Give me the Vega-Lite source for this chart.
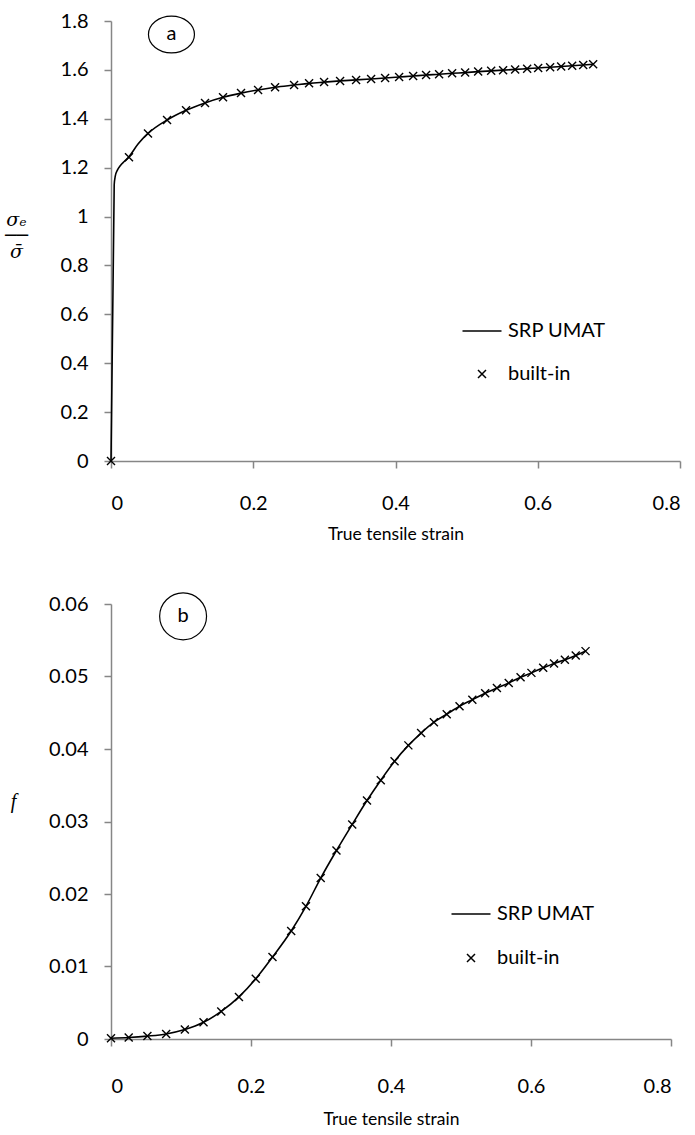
{
  "$schema": "https://vega.github.io/schema/vega-lite/v6.json",
  "background": "white",
  "padding": {"left": 4, "top": 11, "right": 5, "bottom": 5},
  "config": {
    "font": "Lato",
    "view": {"stroke": null},
    "axis": {
      "domainColor": "#868686", "tickColor": "#868686", "grid": false,
      "domainWidth": 1.5, "tickWidth": 1.5, "tickSize": 7,
      "labelFont": "Lato", "labelFontSize": 20, "labelColor": "#000",
      "titleFont": "Lato", "titleFontSize": 17.5, "titleFontWeight": "normal", "titleColor": "#000"
    },
    "legend": {
      "labelFont": "Lato", "labelFontSize": 20, "labelColor": "#000",
      "symbolStrokeColor": "black", "symbolFillColor": "transparent", "symbolStrokeWidth": 1.5,
      "padding": 0
    }
  },
  "datasets": {
    "topLine": [
      {"strain": 0, "value": 0}, {"strain": 0.0045, "value": 1.13}, {"strain": 0.006, "value": 1.165},
      {"strain": 0.009, "value": 1.19}, {"strain": 0.013, "value": 1.208}, {"strain": 0.019, "value": 1.226},
      {"strain": 0.0253, "value": 1.245}, {"strain": 0.038, "value": 1.297}, {"strain": 0.052, "value": 1.34},
      {"strain": 0.0788, "value": 1.395},
      {"strain": 0.1055, "value": 1.435}, {"strain": 0.1322, "value": 1.465}, {"strain": 0.1575, "value": 1.488},
      {"strain": 0.1828, "value": 1.505}, {"strain": 0.2068, "value": 1.518}, {"strain": 0.2307, "value": 1.529},
      {"strain": 0.2574, "value": 1.538}, {"strain": 0.2785, "value": 1.545}, {"strain": 0.2996, "value": 1.55},
      {"strain": 0.3221, "value": 1.555}, {"strain": 0.3446, "value": 1.559}, {"strain": 0.3657, "value": 1.563},
      {"strain": 0.3854, "value": 1.567}, {"strain": 0.4051, "value": 1.571}, {"strain": 0.4248, "value": 1.575},
      {"strain": 0.443, "value": 1.579}, {"strain": 0.4613, "value": 1.582}, {"strain": 0.4796, "value": 1.586},
      {"strain": 0.4979, "value": 1.589}, {"strain": 0.5162, "value": 1.593}, {"strain": 0.5345, "value": 1.596},
      {"strain": 0.5513, "value": 1.599}, {"strain": 0.5682, "value": 1.602}, {"strain": 0.5851, "value": 1.605},
      {"strain": 0.6006, "value": 1.608}, {"strain": 0.6174, "value": 1.611}, {"strain": 0.6329, "value": 1.614},
      {"strain": 0.6484, "value": 1.617}, {"strain": 0.6639, "value": 1.62}, {"strain": 0.6779, "value": 1.623}
    ],
    "topPts": [
      {"series": "built-in", "strain": 0, "value": 0}, {"series": "built-in", "strain": 0.0253, "value": 1.243},
      {"series": "built-in", "strain": 0.052, "value": 1.34}, {"series": "built-in", "strain": 0.0788, "value": 1.395},
      {"series": "built-in", "strain": 0.1055, "value": 1.435}, {"series": "built-in", "strain": 0.1322, "value": 1.465},
      {"series": "built-in", "strain": 0.1575, "value": 1.488}, {"series": "built-in", "strain": 0.1828, "value": 1.505},
      {"series": "built-in", "strain": 0.2068, "value": 1.518}, {"series": "built-in", "strain": 0.2307, "value": 1.529},
      {"series": "built-in", "strain": 0.2574, "value": 1.538}, {"series": "built-in", "strain": 0.2785, "value": 1.545},
      {"series": "built-in", "strain": 0.2996, "value": 1.55}, {"series": "built-in", "strain": 0.3221, "value": 1.555},
      {"series": "built-in", "strain": 0.3446, "value": 1.559}, {"series": "built-in", "strain": 0.3657, "value": 1.563},
      {"series": "built-in", "strain": 0.3854, "value": 1.567}, {"series": "built-in", "strain": 0.4051, "value": 1.571},
      {"series": "built-in", "strain": 0.4248, "value": 1.575}, {"series": "built-in", "strain": 0.443, "value": 1.579},
      {"series": "built-in", "strain": 0.4613, "value": 1.582}, {"series": "built-in", "strain": 0.4796, "value": 1.586},
      {"series": "built-in", "strain": 0.4979, "value": 1.589}, {"series": "built-in", "strain": 0.5162, "value": 1.593},
      {"series": "built-in", "strain": 0.5345, "value": 1.596}, {"series": "built-in", "strain": 0.5513, "value": 1.599},
      {"series": "built-in", "strain": 0.5682, "value": 1.602}, {"series": "built-in", "strain": 0.5851, "value": 1.605},
      {"series": "built-in", "strain": 0.6006, "value": 1.608}, {"series": "built-in", "strain": 0.6174, "value": 1.611},
      {"series": "built-in", "strain": 0.6329, "value": 1.614}, {"series": "built-in", "strain": 0.6484, "value": 1.617},
      {"series": "built-in", "strain": 0.6639, "value": 1.62}, {"series": "built-in", "strain": 0.6779, "value": 1.623}
    ],
    "botLine": [
      {"strain": 0, "value": 0.0001}, {"strain": 0.0253, "value": 0.0002}, {"strain": 0.052, "value": 0.0004},
      {"strain": 0.0788, "value": 0.0007}, {"strain": 0.1055, "value": 0.0013}, {"strain": 0.1322, "value": 0.0023},
      {"strain": 0.1575, "value": 0.0038}, {"strain": 0.1828, "value": 0.0058}, {"strain": 0.2068, "value": 0.0083},
      {"strain": 0.2307, "value": 0.0113}, {"strain": 0.2574, "value": 0.0149}, {"strain": 0.2785, "value": 0.0183},
      {"strain": 0.2996, "value": 0.0222}, {"strain": 0.3221, "value": 0.026}, {"strain": 0.3446, "value": 0.0296},
      {"strain": 0.3657, "value": 0.0329}, {"strain": 0.3854, "value": 0.0357}, {"strain": 0.4051, "value": 0.0383},
      {"strain": 0.4248, "value": 0.0405}, {"strain": 0.443, "value": 0.0422}, {"strain": 0.4613, "value": 0.0437},
      {"strain": 0.4796, "value": 0.0448}, {"strain": 0.4979, "value": 0.0459}, {"strain": 0.5162, "value": 0.0468},
      {"strain": 0.5345, "value": 0.0477}, {"strain": 0.5513, "value": 0.0484}, {"strain": 0.5682, "value": 0.0491},
      {"strain": 0.5851, "value": 0.0499}, {"strain": 0.6006, "value": 0.0505}, {"strain": 0.6174, "value": 0.0512},
      {"strain": 0.6329, "value": 0.0518}, {"strain": 0.6484, "value": 0.0523}, {"strain": 0.6639, "value": 0.0529},
      {"strain": 0.6779, "value": 0.0535}
    ],
    "botPts": [
      {"series": "built-in", "strain": 0, "value": 0.0001}, {"series": "built-in", "strain": 0.0253, "value": 0.0002},
      {"series": "built-in", "strain": 0.052, "value": 0.0004}, {"series": "built-in", "strain": 0.0788, "value": 0.0007},
      {"series": "built-in", "strain": 0.1055, "value": 0.0013}, {"series": "built-in", "strain": 0.1322, "value": 0.0023},
      {"series": "built-in", "strain": 0.1575, "value": 0.0038}, {"series": "built-in", "strain": 0.1828, "value": 0.0058},
      {"series": "built-in", "strain": 0.2068, "value": 0.0083}, {"series": "built-in", "strain": 0.2307, "value": 0.0113},
      {"series": "built-in", "strain": 0.2574, "value": 0.0149}, {"series": "built-in", "strain": 0.2785, "value": 0.0183},
      {"series": "built-in", "strain": 0.2996, "value": 0.0222}, {"series": "built-in", "strain": 0.3221, "value": 0.026},
      {"series": "built-in", "strain": 0.3446, "value": 0.0296}, {"series": "built-in", "strain": 0.3657, "value": 0.0329},
      {"series": "built-in", "strain": 0.3854, "value": 0.0357}, {"series": "built-in", "strain": 0.4051, "value": 0.0383},
      {"series": "built-in", "strain": 0.4248, "value": 0.0405}, {"series": "built-in", "strain": 0.443, "value": 0.0422},
      {"series": "built-in", "strain": 0.4613, "value": 0.0437}, {"series": "built-in", "strain": 0.4796, "value": 0.0448},
      {"series": "built-in", "strain": 0.4979, "value": 0.0459}, {"series": "built-in", "strain": 0.5162, "value": 0.0468},
      {"series": "built-in", "strain": 0.5345, "value": 0.0477}, {"series": "built-in", "strain": 0.5513, "value": 0.0484},
      {"series": "built-in", "strain": 0.5682, "value": 0.0491}, {"series": "built-in", "strain": 0.5851, "value": 0.0499},
      {"series": "built-in", "strain": 0.6006, "value": 0.0505}, {"series": "built-in", "strain": 0.6174, "value": 0.0512},
      {"series": "built-in", "strain": 0.6329, "value": 0.0518}, {"series": "built-in", "strain": 0.6484, "value": 0.0523},
      {"series": "built-in", "strain": 0.6639, "value": 0.0529}, {"series": "built-in", "strain": 0.6779, "value": 0.0535}
    ],
    "annTop": [{"strain": 0.085, "value": 1.745, "label": "a"}],
    "annBot": [{"strain": 0.103, "value": 0.0583, "label": "b"}]
  },
  "spacing": 47,
  "resolve": {"scale": {"x": "independent", "y": "independent", "shape": "independent"}, "legend": {"shape": "independent"}},
  "vconcat": [
    {
      "width": 569,
      "height": 440,
      "encoding": {
        "x": {"field": "strain", "type": "quantitative", "scale": {"domain": [0, 0.8]},
              "axis": {"values": [0, 0.2, 0.4, 0.6, 0.8], "format": "~g", "labelPadding": 25, "titlePadding": 12, "title": "True tensile strain"}},
        "y": {"field": "value", "type": "quantitative", "scale": {"domain": [0, 1.8]},
              "axis": {"values": [0, 0.2, 0.4, 0.6, 0.8, 1, 1.2, 1.4, 1.6, 1.8], "format": "~g", "labelPadding": 16,
                       "title": ["σₑ", "──", "σ̄"], "titleAngle": 0, "titleAlign": "center", "titleBaseline": "middle",
                       "titleX": -95, "titleY": 198, "titleFont": "DejaVu Serif", "titleFontStyle": "italic",
                       "titleFontSize": 19, "titleLineHeight": 16}}
      },
      "layer": [
        {"data": {"name": "topLine"}, "mark": {"type": "line", "color": "black", "strokeWidth": 1.6, "interpolate": "monotone"}},
        {"data": {"name": "topPts"},
         "mark": {"type": "point", "filled": false, "color": "black", "strokeWidth": 1.4, "size": 100, "opacity": 1},
         "encoding": {"shape": {"field": "series", "type": "nominal",
           "scale": {"domain": ["SRP UMAT", "built-in"], "range": ["M-3.9,0L3.9,0", "M-0.8,-0.8L0.8,0.8M-0.8,0.8L0.8,-0.8"]},
           "legend": {"orient": "none", "legendX": 361, "legendY": 300, "title": null, "symbolSize": 100, "labelOffset": 16, "rowPadding": 23}}}},
        {"data": {"name": "annTop"},
         "mark": {"type": "point", "shape": "M-1,0A1,0.8,0,1,1,1,0A1,0.8,0,1,1,-1,0Z", "size": 2116, "filled": false, "color": "black", "strokeWidth": 1.2, "opacity": 1}},
        {"data": {"name": "annTop"},
         "mark": {"type": "text", "font": "Lato", "fontSize": 20, "color": "black", "baseline": "middle", "align": "center"},
         "encoding": {"text": {"field": "label"}}}
      ]
    },
    {
      "width": 560,
      "height": 435,
      "encoding": {
        "x": {"field": "strain", "type": "quantitative", "scale": {"domain": [0, 0.8]},
              "axis": {"values": [0, 0.2, 0.4, 0.6, 0.8], "format": "~g", "labelPadding": 30, "titlePadding": 14, "title": "True tensile strain"}},
        "y": {"field": "value", "type": "quantitative", "scale": {"domain": [0, 0.06]},
              "axis": {"values": [0, 0.01, 0.02, 0.03, 0.04, 0.05, 0.06], "format": "~g", "labelPadding": 16,
                       "title": "f", "titleAngle": 0, "titleAlign": "center", "titleBaseline": "middle",
                       "titleX": -98, "titleY": 197, "titleFont": "Liberation Serif", "titleFontStyle": "italic",
                       "titleFontSize": 20}}
      },
      "layer": [
        {"data": {"name": "botLine"}, "mark": {"type": "line", "color": "black", "strokeWidth": 1.6, "interpolate": "monotone"}},
        {"data": {"name": "botPts"},
         "mark": {"type": "point", "filled": false, "color": "black", "strokeWidth": 1.4, "size": 100, "opacity": 1},
         "encoding": {"shape": {"field": "series", "type": "nominal",
           "scale": {"domain": ["SRP UMAT", "built-in"], "range": ["M-3.9,0L3.9,0", "M-0.8,-0.8L0.8,0.8M-0.8,0.8L0.8,-0.8"]},
           "legend": {"orient": "none", "legendX": 350, "legendY": 300, "title": null, "symbolSize": 100, "labelOffset": 16, "rowPadding": 24}}}},
        {"data": {"name": "annBot"},
         "mark": {"type": "point", "shape": "circle", "size": 2200, "filled": false, "color": "black", "strokeWidth": 1.2, "opacity": 1}},
        {"data": {"name": "annBot"},
         "mark": {"type": "text", "font": "Lato", "fontSize": 20, "color": "black", "baseline": "middle", "align": "center"},
         "encoding": {"text": {"field": "label"}}}
      ]
    }
  ]
}
